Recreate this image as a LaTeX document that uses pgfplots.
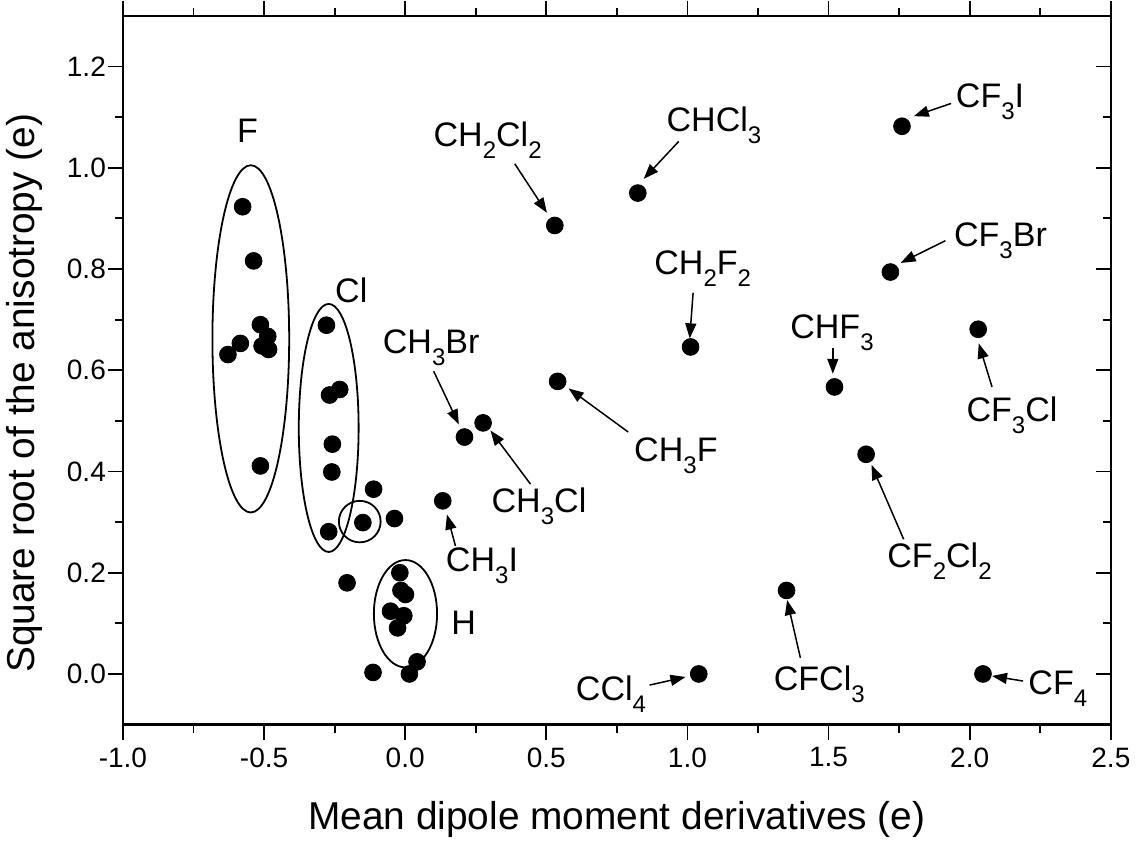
\documentclass[border=0pt]{standalone}
\usepackage{fontspec}
\setmainfont{Liberation Sans}
\usepackage{pgfplots}
\usepackage{pgfplotstable}
\pgfplotsset{compat=1.18}
\usetikzlibrary{arrows.meta}

\newcommand{\sub}[1]{\raisebox{-6pt}{\fontsize{12}{12}\selectfont #1}}

% mean dipole derivative vs sqrt(anisotropy)
\pgfplotstableread{
x y
0.530 0.886
0.824 0.950
1.011 0.646
0.540 0.578
0.210 0.468
0.276 0.496
1.760 1.082
1.719 0.794
1.521 0.567
2.030 0.681
1.633 0.434
1.351 0.165
2.047 0.000
0.133 0.342
1.040 0.000
-0.576 0.923
-0.537 0.816
-0.513 0.690
-0.487 0.667
-0.507 0.648
-0.484 0.641
-0.584 0.653
-0.628 0.631
-0.513 0.411
-0.279 0.689
-0.268 0.551
-0.232 0.562
-0.258 0.454
-0.260 0.399
-0.271 0.281
-0.112 0.365
-0.150 0.299
-0.038 0.307
-0.206 0.180
-0.019 0.200
-0.015 0.165
0.001 0.157
-0.052 0.124
-0.005 0.115
-0.027 0.091
0.042 0.024
0.015 0.000
-0.114 0.003
}\data

\begin{document}
\begin{tikzpicture}
\pgfplotsset{
  common/.style={
    scale only axis, width=493.5pt, height=354pt,
    xmin=-1, xmax=2.5, ymin=-0.1, ymax=1.3,
    major tick length=7.5pt, minor tick length=4pt,
    every tick/.style={black, line width=0.9pt},
    axis line style={line width=1.1pt},
  }
}
\begin{axis}[common,
    xtick={-1,-0.5,0,0.5,1,1.5,2,2.5},
    ytick={0,0.2,0.4,0.6,0.8,1.0,1.2},
    minor x tick num=1, minor y tick num=1,
    tick align=outside, ytick pos=left, xtick pos=both,
    /pgf/number format/.cd, fixed, fixed zerofill, precision=1, assume math mode=true,
    /pgfplots/.cd,
    ticklabel style={font=\fontsize{14}{15}\selectfont},
    xticklabel style={yshift=-0.5pt},
    yticklabel style={xshift=2.5pt},
    xlabel={Mean dipole moment derivatives (e)},
    ylabel={Square root of the anisotropy (e)},
    label style={font=\fontsize{19.4}{21}\selectfont},
    xlabel style={at={(axis description cs:0.5,-0.1483)}, anchor=base},
    ylabel style={at={(axis description cs:-0.0892,0.4675)}, anchor=base},
    clip=false,
  ]
  \addplot[only marks, mark=*, mark size=4.2pt, black] table {\data};

  \draw[line width=0.9pt] (axis cs:-0.547,0.662) ellipse [x radius=0.136, y radius=0.343];
  \draw[line width=0.9pt] (axis cs:-0.271,0.486) ellipse [x radius=0.106, y radius=0.245];
  \draw[line width=0.9pt] (axis cs:-0.161,0.301) ellipse [x radius=0.074, y radius=0.041];
  \draw[line width=0.9pt] (axis cs:0.001,0.119) ellipse [x radius=0.112, y radius=0.106];

  \begin{scope}[every node/.style={anchor=base, inner sep=0pt, font=\fontsize{17}{18}\selectfont}]
    \node at (axis cs:-0.559,1.049) {F};
    \node at (axis cs:-0.191,0.734) {Cl};
    \node at (axis cs:0.207,0.078) {H};
    \node at (axis cs:0.092,0.634) {CH\sub{3}Br};
    \node at (axis cs:0.292,1.042) {CH\sub{2}Cl\sub{2}};
    \node at (axis cs:1.094,1.071) {CHCl\sub{3}};
    \node at (axis cs:1.054,0.789) {CH\sub{2}F\sub{2}};
    \node at (axis cs:0.959,0.4205) {CH\sub{3}F};
    \node at (axis cs:0.474,0.318) {CH\sub{3}Cl};
    \node at (axis cs:0.272,0.202) {CH\sub{3}I};
    \node at (axis cs:0.729,-0.053) {CCl\sub{4}};
    \node at (axis cs:1.467,-0.032) {CFCl\sub{3}};
    \node at (axis cs:2.312,-0.040) {CF\sub{4}};
    \node at (axis cs:1.893,0.210) {CF\sub{2}Cl\sub{2}};
    \node at (axis cs:2.150,0.4995) {CF\sub{3}Cl};
    \node at (axis cs:1.512,0.663) {CHF\sub{3}};
    \node at (axis cs:2.109,0.845) {CF\sub{3}Br};
    \node at (axis cs:2.072,1.119) {CF\sub{3}I};
  \end{scope}

  \begin{scope}[line width=0.75pt, -{Triangle[length=7.5pt, width=5.5pt]}]
    \draw (axis cs:0.388,1.008) -- (axis cs:0.502,0.911);
    \draw (axis cs:0.969,1.052) -- (axis cs:0.845,0.978);
    \draw (axis cs:1.020,0.753) -- (axis cs:1.008,0.663);
    \draw (axis cs:0.790,0.478) -- (axis cs:0.579,0.564);
    \draw (axis cs:0.101,0.598) -- (axis cs:0.190,0.493);
    \draw (axis cs:0.444,0.375) -- (axis cs:0.302,0.481);
    \draw (axis cs:0.178,0.253) -- (axis cs:0.148,0.315);
    \draw (axis cs:0.866,-0.022) -- (axis cs:0.993,-0.006);
    \draw (axis cs:1.400,0.032) -- (axis cs:1.353,0.146);
    \draw (axis cs:2.189,-0.014) -- (axis cs:2.079,-0.004);
    \draw (axis cs:1.766,0.266) -- (axis cs:1.652,0.413);
    \draw (axis cs:2.079,0.567) -- (axis cs:2.032,0.653);
    \draw (axis cs:1.515,0.644) -- (axis cs:1.515,0.593);
    \draw (axis cs:1.914,0.856) -- (axis cs:1.755,0.812);
    \draw (axis cs:1.934,1.127) -- (axis cs:1.802,1.102);
  \end{scope}
\end{axis}
% right-hand ticks point inwards
\begin{axis}[common,
    hide x axis, axis y line*=right,
    ytick={0,0.2,0.4,0.6,0.8,1.0,1.2}, yticklabels={},
    minor y tick num=1, ytick align=inside,
  ]
\end{axis}
\end{tikzpicture}
\end{document}
